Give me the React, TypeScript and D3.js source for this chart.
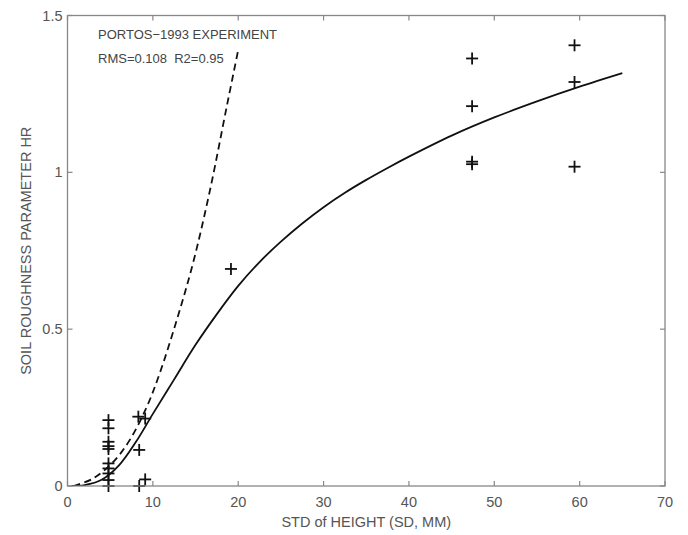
import React from "react";
import * as d3 from "d3";

// measured points (SD in mm, HR)
const obsSD = [
  4.8, 4.8, 4.8, 4.8, 4.8, 4.8, 4.8, 4.8, 4.8, 4.8,
  8.3, 9.1, 8.4, 8.4, 9.1,
  19.15,
  47.4, 47.4, 47.4, 47.4,
  59.4, 59.4, 59.4,
];
const obsHR = [
  0.21, 0.184, 0.141, 0.127, 0.072, 0.056, 0.04, 0.019, 0.0, 0.118,
  0.221, 0.215, 0.115, 0.0, 0.021,
  0.692,
  1.363, 1.211, 1.034, 1.026,
  1.405, 1.288, 1.018,
];

// fitted model (solid)
const fitSD = [0.5, 2, 4, 6, 8, 10, 12.5, 15, 17.5, 20, 22.5, 25, 27.5, 30, 32.5, 35, 37.5, 40, 45, 50, 55, 60, 65];
const fitHR = [0, 0.003, 0.02, 0.065, 0.14, 0.23, 0.34, 0.45, 0.548, 0.638, 0.714, 0.779, 0.837, 0.889, 0.935, 0.976, 1.014, 1.05, 1.117, 1.175, 1.226, 1.273, 1.316];

// earlier model (dashed)
const oldSD = [0.7, 3.0, 5.4, 7.3, 9.3, 10.8, 12.8, 14.7, 16.7, 18.65, 20.0];
const oldHR = [0, 0.024, 0.078, 0.147, 0.253, 0.359, 0.529, 0.71, 0.944, 1.209, 1.39];

const xTicks = [0, 10, 20, 30, 40, 50, 60, 70];
const yTicks = [0, 0.5, 1, 1.5];

const W = 688, H = 535;
const m = { left: 67.5, right: 23, top: 15.5, bottom: 49 };

export default function App() {
  const x = d3.scaleLinear().domain([0, 70]).range([m.left, W - m.right]);
  const y = d3.scaleLinear().domain([0, 1.5]).range([H - m.bottom, m.top]);

  const line = d3
    .line<[number, number]>()
    .x((d) => x(d[0]))
    .y((d) => y(d[1]))
    .curve(d3.curveCatmullRom.alpha(0.5));

  const fit = line(fitSD.map((s, i) => [s, fitHR[i]]) as [number, number][]) || "";
  const old = line(oldSD.map((s, i) => [s, oldHR[i]]) as [number, number][]) || "";

  const x0 = x(0), x1 = x(70), y0 = y(0), y1 = y(1.5);
  const tk = 5;
  const font = "Liberation Sans, Arial, sans-serif";
  const axisGrey = "#888";
  const textGrey = "#555";

  return (
    <svg width={W} height={H} style={{ position: "absolute", left: 0, top: 0, background: "#fff" }} fontFamily={font}>
      <defs>
        <clipPath id="plot">
          <rect x={x0} y={y1} width={x1 - x0} height={y0 - y1} />
        </clipPath>
      </defs>
      <rect x={0} y={0} width={W} height={H} fill="#fff" />

      {/* ticks on all four sides, pointing in */}
      {xTicks.map((t) => (
        <g key={"xt" + t} stroke={axisGrey} strokeWidth={1.2}>
          <line x1={x(t)} x2={x(t)} y1={y0} y2={y0 - tk} />
          <line x1={x(t)} x2={x(t)} y1={y1} y2={y1 + tk} />
        </g>
      ))}
      {yTicks.map((t) => (
        <g key={"yt" + t} stroke={axisGrey} strokeWidth={1.2}>
          <line x1={x0} x2={x0 + tk} y1={y(t)} y2={y(t)} />
          <line x1={x1} x2={x1 - tk} y1={y(t)} y2={y(t)} />
        </g>
      ))}

      <g clipPath="url(#plot)" fill="none" stroke="#111" strokeWidth={1.8}>
        <path d={old} strokeDasharray="7,4.5" />
        <path d={fit} />
      </g>

      <g stroke="#111" strokeWidth={1.8}>
        {obsSD.map((s, i) => (
          <g key={"p" + i}>
            <line x1={x(s) - 6} x2={x(s) + 6} y1={y(obsHR[i])} y2={y(obsHR[i])} />
            <line x1={x(s)} x2={x(s)} y1={y(obsHR[i]) - 6} y2={y(obsHR[i]) + 6} />
          </g>
        ))}
      </g>

      <rect x={x0} y={y1} width={x1 - x0} height={y0 - y1} fill="none" stroke={axisGrey} strokeWidth={1.3} />

      {xTicks.map((t) => (
        <text key={"xl" + t} x={x(t)} y={y0 + 21} textAnchor="middle" fontSize={14.5} fill={textGrey}>
          {t}
        </text>
      ))}
      {yTicks.map((t) => (
        <text key={"yl" + t} x={x0 - 5} y={y(t) + 5} textAnchor="end" fontSize={14.5} fill={textGrey}>
          {t}
        </text>
      ))}

      <text x={(x0 + x1) / 2} y={527} textAnchor="middle" fontSize={14.5} fill={textGrey}>
        STD of HEIGHT (SD, MM)
      </text>
      <text
        transform={`translate(31,${(y0 + y1) / 2}) rotate(-90)`}
        textAnchor="middle"
        fontSize={14.5}
        fill={textGrey}
      >
        SOIL ROUGHNESS PARAMETER HR
      </text>

      <text x={98} y={39} fontSize={13} fill="#444">PORTOS−1993 EXPERIMENT</text>
      <text x={98} y={62.5} fontSize={13} fill="#444" xmlSpace="preserve" style={{ whiteSpace: "pre" }}>
        {"RMS=0.108  R2=0.95"}
      </text>
    </svg>
  );
}
